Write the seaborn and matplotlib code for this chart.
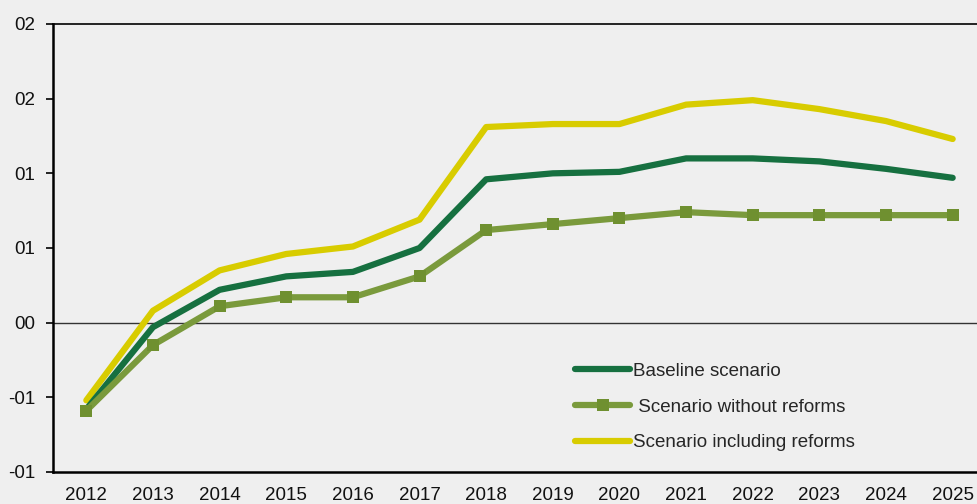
import matplotlib
matplotlib.use("Agg")
import matplotlib.pyplot as plt
import seaborn as sns
import pandas as pd

years = [2012, 2013, 2014, 2015, 2016, 2017, 2018, 2019, 2020, 2021, 2022, 2023, 2024, 2025]
baseline = [-0.058, -0.003, 0.022, 0.031, 0.034, 0.050, 0.096, 0.100, 0.101, 0.110, 0.110, 0.108, 0.103, 0.097]
without_reforms = [-0.059, -0.015, 0.011, 0.017, 0.017, 0.031, 0.062, 0.066, 0.070, 0.074, 0.072, 0.072, 0.072, 0.072]
with_reforms = [-0.052, 0.008, 0.035, 0.046, 0.051, 0.069, 0.131, 0.133, 0.133, 0.146, 0.149, 0.143, 0.135, 0.123]
ytick_values = [-0.10, -0.05, 0.0, 0.05, 0.10, 0.15, 0.20]
ytick_labels = ["-01", "-01", "00", "01", "01", "02", "02"]
names = ["Baseline scenario", " Scenario without reforms", "Scenario including reforms"]

sns.set_theme(style="white")
plt.rcParams["font.family"] = ["Liberation Sans", "DejaVu Sans"]

bg = "#efefef"
fs = 13.5
fig = plt.figure(figsize=(9.78, 5.04), dpi=100, facecolor=bg)
ax = fig.add_axes([53/978, 32/504, (986-53)/978, 448/504], facecolor=bg)

x = list(range(len(years)))
df_b = pd.DataFrame({"x": x, "y": baseline})
df_w = pd.DataFrame({"x": x, "y": without_reforms})
df_r = pd.DataFrame({"x": x, "y": with_reforms})

ax.axhline(0, color="#333333", lw=1.0, zorder=1)

sns.lineplot(data=df_r, x="x", y="y", ax=ax, color="#d8cc00", lw=6.0,
             solid_capstyle="round", label=names[2], zorder=3)
sns.lineplot(data=df_b, x="x", y="y", ax=ax, color="#167040", lw=3.8,
             solid_capstyle="round", label=names[0], zorder=4)
sns.lineplot(data=df_w, x="x", y="y", ax=ax, color="#7a9a3c", lw=3.6,
             marker="s", markersize=9, markeredgewidth=0, markerfacecolor="#6f9030",
             solid_capstyle="round", label=names[1], zorder=5)

ax.set_xlim(-0.5, 13.5)
ax.set_ylim(-0.1, 0.2)
ax.set_xticks(x)
ax.set_xticklabels([str(y) for y in years], fontsize=fs, color="#111111")
ax.set_yticks(ytick_values)
ax.set_yticklabels(ytick_labels, fontsize=fs, color="#111111")
ax.tick_params(axis="y", which="both", left=True, length=5, width=1.2, color="black", pad=8)
ax.tick_params(axis="x", bottom=False, pad=5)
ax.set_xlabel("")
ax.set_ylabel("")

for s in ["left", "bottom"]:
    ax.spines[s].set_color("black")
    ax.spines[s].set_linewidth(1.8)
ax.spines["top"].set_color("black")
ax.spines["top"].set_linewidth(1.2)
ax.spines["right"].set_visible(False)

handles, labels = ax.get_legend_handles_labels()
for h in handles:
    h.set_linewidth(4.5)
order = [labels.index(n) for n in names]
leg = ax.legend([handles[i] for i in order], [labels[i] for i in order],
                loc="upper left", bbox_to_anchor=((568-53)/933, (504-32-355)/448),
                frameon=False, fontsize=fs, handlelength=2.9, handletextpad=0.15,
                labelspacing=1.0, borderaxespad=0)

fig.savefig("out.png", dpi=100, facecolor=bg)
